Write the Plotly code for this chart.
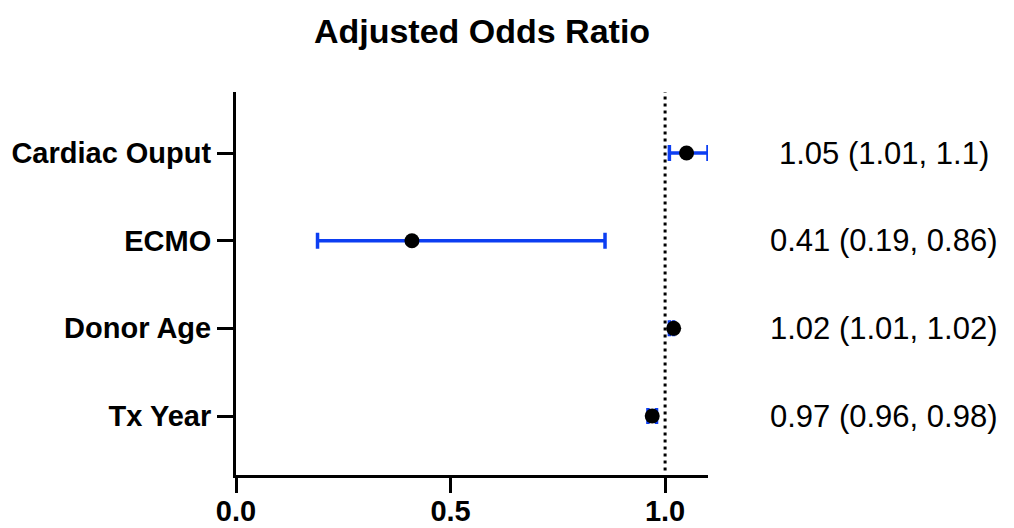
import plotly.graph_objects as go

categories = ["Cardiac Ouput", "ECMO", "Donor Age", "Tx Year"]
odds_ratio = [1.05, 0.41, 1.02, 0.97]
ci_low = [1.01, 0.19, 1.01, 0.96]
ci_high = [1.10, 0.86, 1.02, 0.98]
labels = ["1.05 (1.01, 1.1)", "0.41 (0.19, 0.86)", "1.02 (1.01, 1.02)", "0.97 (0.96, 0.98)"]
x_ticks = [0.0, 0.5, 1.0]
x_tick_text = ["0.0", "0.5", "1.0"]

n = len(categories)
ypos = [n - 1 - i for i in range(n)]
err_plus = [h - o for h, o in zip(ci_high, odds_ratio)]
err_minus = [o - l for o, l in zip(odds_ratio, ci_low)]

FONT = "Liberation Sans, Arial, Helvetica, sans-serif"
BLUE = "#0C3EF2"
W, H = 1014, 528

fig = go.Figure()
fig.add_trace(go.Scatter(
    x=odds_ratio, y=ypos, mode="markers",
    marker=dict(color="black", size=15, symbol="circle"),
    error_x=dict(type="data", symmetric=False, array=err_plus, arrayminus=err_minus,
                 color=BLUE, thickness=3.5, width=8),
    showlegend=False,
))

fig.add_shape(type="line", xref="x", yref="paper", x0=1.0, x1=1.0, y0=0.012, y1=1.0,
              line=dict(color="black", width=3, dash="3px,4px"))

for yv, txt in zip(ypos, labels):
    fig.add_annotation(xref="paper", yref="y", x=1.373, y=yv, text=txt, showarrow=False,
                       xanchor="center", yanchor="middle",
                       font=dict(family=FONT, size=31, color="black"))

fig.update_layout(
    width=W, height=H,
    margin=dict(l=228, r=314, t=84, b=61),
    paper_bgcolor="white", plot_bgcolor="white",
    title=dict(text="<b>Adjusted Odds Ratio</b>", x=474 / W, xanchor="center",
               y=1 - 23 / H, yanchor="middle",
               font=dict(family=FONT, size=34, color="black")),
    font=dict(family=FONT, color="black"),
)
fig.update_xaxes(range=[0, 1.1], tickvals=x_ticks, ticktext=["<b>%s</b>" % t for t in x_tick_text],
                 showline=True, linecolor="black", linewidth=3, showgrid=False, zeroline=False,
                 ticks="outside", ticklen=15, tickwidth=3, tickcolor="black", automargin=False,
                 ticklabelstandoff=-7,
                 tickfont=dict(family=FONT, size=29, color="black"))
fig.update_yaxes(range=[-0.673, 3.696], tickvals=ypos, ticktext=["<b>%s</b>" % c for c in categories],
                 showline=True, linecolor="black", linewidth=3, showgrid=False, zeroline=False,
                 ticks="outside", ticklen=16, tickwidth=3, tickcolor="black", automargin=False,
                 tickfont=dict(family=FONT, size=29, color="black"))

fig.write_html("out.html")
